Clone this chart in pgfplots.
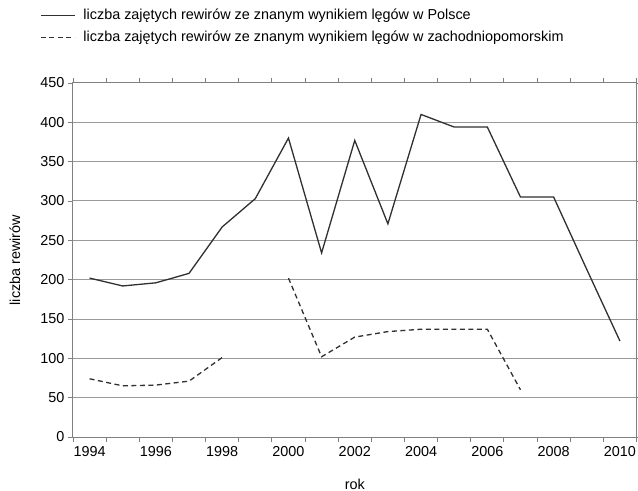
\documentclass[border=0pt]{standalone}
\usepackage{pgfplots}
\pgfplotsset{compat=1.18}
\usepackage{fontspec}
\setmainfont{Liberation Sans}
\definecolor{ln}{HTML}{303030}
\definecolor{gr}{HTML}{9A9A9A}
\definecolor{ax}{HTML}{808080}
\begin{document}
\begin{tikzpicture}
\useasboundingbox (-73bp,-54bp) rectangle (565bp,437bp);
\begin{axis}[
  scale only axis,
  width=563.5bp, height=354bp,
  xmin=1993.5, xmax=2010.5,
  ymin=0, ymax=450,
  xtick={1994,1996,...,2010},
  minor xtick={1993.5,1994.5,...,2010.5},
  ytick={0,50,...,450},
  xticklabel style={/pgf/number format/1000 sep={}, font=\fontsize{14.4bp}{17bp}\selectfont, yshift=-1bp},
  yticklabel style={font=\fontsize{14.4bp}{17bp}\selectfont},
  /pgf/number format/assume math mode=true,
  tick align=outside,
  major tick length=5bp, minor tick length=5bp,
  major x tick style={draw=none},
  minor x tick style={ax, line width=0.9bp},
  major y tick style={ax, line width=0.9bp},
  ymajorgrids,
  grid style={gr, line width=1bp},
  axis line style={ax, line width=1bp},
  unbounded coords=jump,
  xlabel={rok},
  ylabel={liczba rewirów},
  xlabel style={font=\fontsize{14.4bp}{17bp}\selectfont, at={(axis description cs:0.5,-0.133)}, anchor=center},
  ylabel style={font=\fontsize{14.4bp}{17bp}\selectfont, at={(axis description cs:-0.103,0.5)}, anchor=center},
  legend style={at={(axis description cs:-0.0586,1.212)}, anchor=north west, draw=none, fill=none,
    font=\fontsize{14.4bp}{17bp}\selectfont, row sep=8bp, inner sep=0pt,
    nodes={inner sep=1bp}},
  legend cell align=left,
  legend image code/.code={\draw[#1] (0bp,0bp) -- (34bp,0bp); \path (41bp,0bp);},
]
\addplot[ln, line width=1.3bp] coordinates {
(1994,202) (1995,192) (1996,196) (1997,208) (1998,267) (1999,303) (2000,380)
(2001,234) (2002,377) (2003,271) (2004,410) (2005,394) (2006,394)
(2007,305) (2008,305) (2009,213) (2010,122)};
\addlegendentry{liczba zajętych rewirów ze znanym wynikiem lęgów w Polsce}
\addplot[ln, line width=1.3bp, dash pattern=on 5bp off 3.5bp] coordinates {
(1994,74) (1995,65) (1996,66) (1997,71) (1998,101) (1999,nan) (2000,202)
(2001,102) (2002,127) (2003,134) (2004,137) (2005,137) (2006,137) (2007,60)};
\addlegendentry{liczba zajętych rewirów ze znanym wynikiem lęgów w zachodniopomorskim}
\end{axis}
\end{tikzpicture}
\end{document}
